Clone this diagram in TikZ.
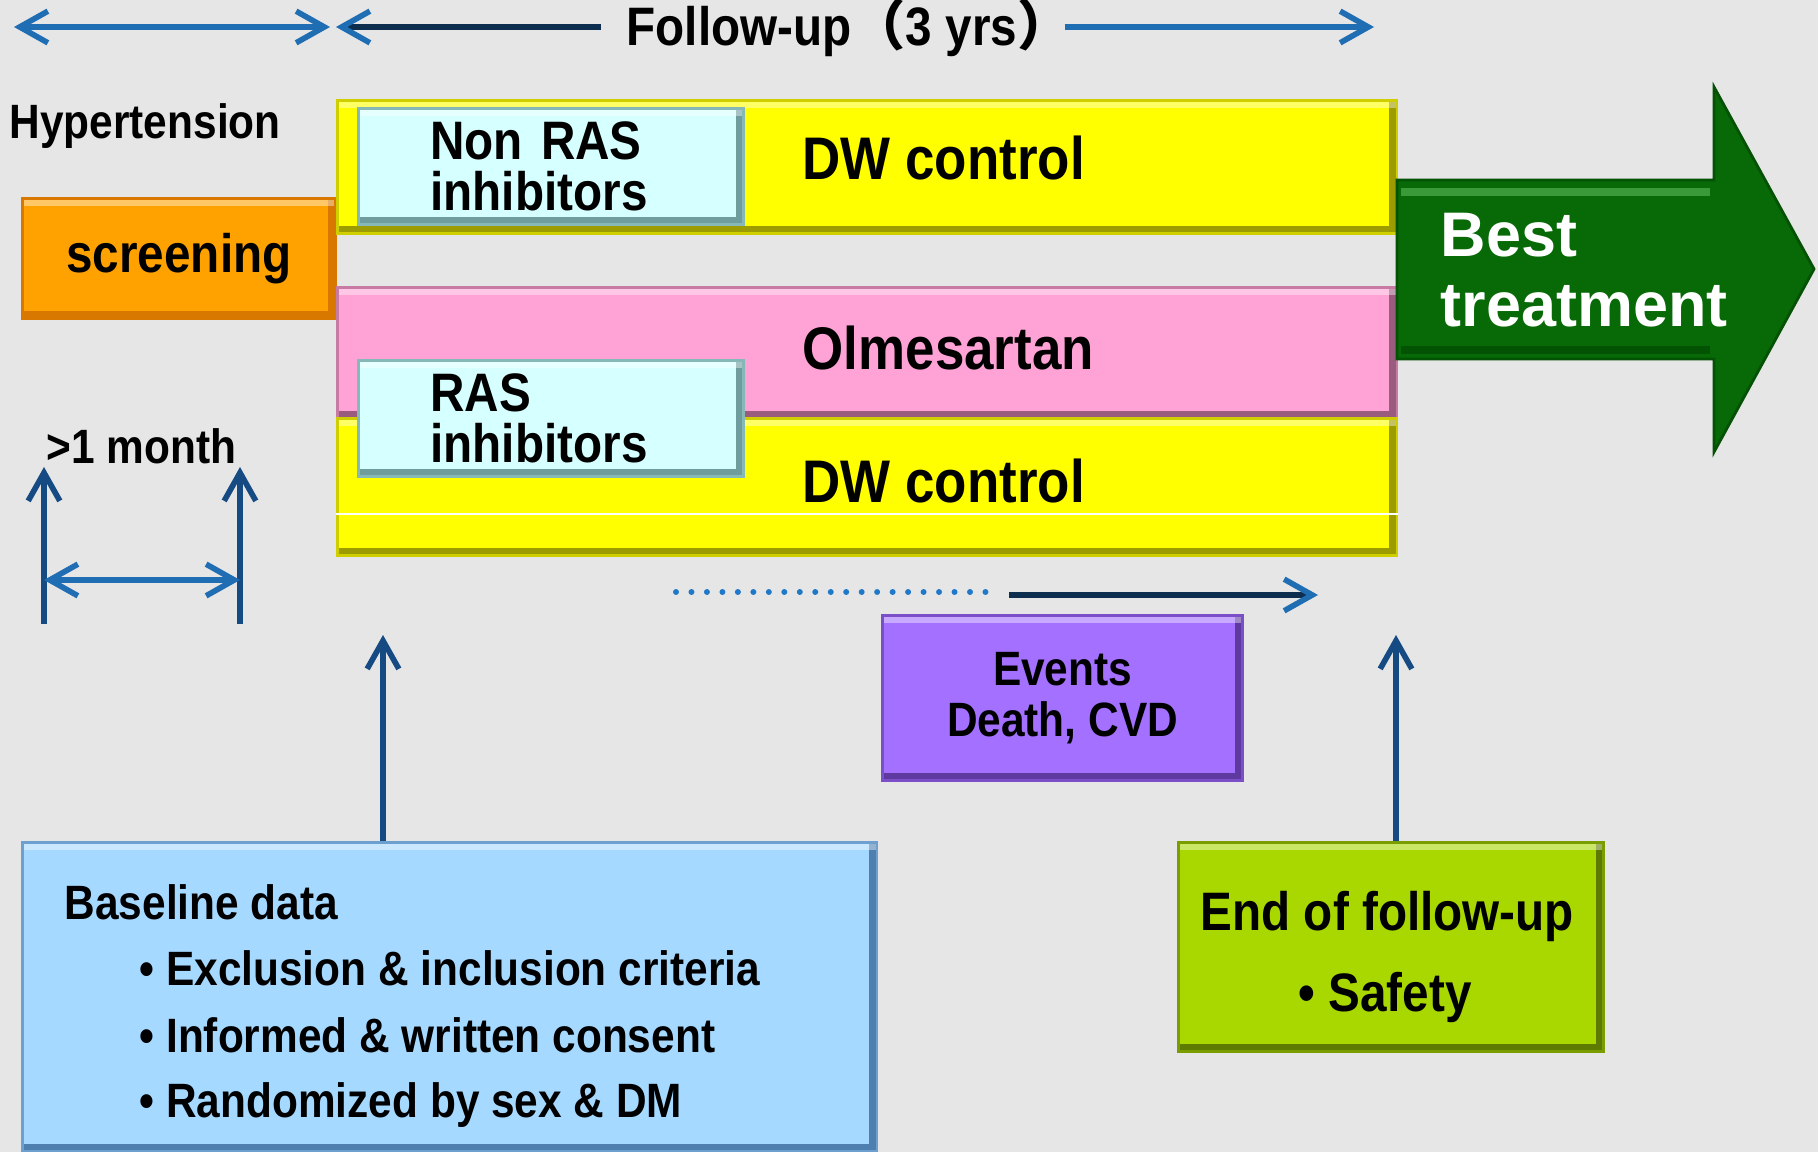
\documentclass[tikz,border=0pt]{standalone}
\usepackage{fontspec}
\setmainfont{Liberation Sans}
\newfontfamily\narrowsf{Liberation Sans}[FakeStretch=0.88]
\newfontfamily\cjk{Noto Sans CJK SC}
\usepackage{tikz}
\usetikzlibrary{arrows.meta}
\definecolor{bgcol}{HTML}{E6E6E6}
\definecolor{arrblue}{HTML}{1F6DB3}
\definecolor{arrnavy}{HTML}{154A82}
\definecolor{arrdark}{HTML}{0E2E50}
\definecolor{dotblue}{HTML}{1F78C8}
\definecolor{orangefill}{HTML}{FFA200}
\definecolor{orangeline}{HTML}{D87800}
\definecolor{yel}{HTML}{FFFF00}
\definecolor{yelline}{HTML}{CFCF00}
\definecolor{yeldark}{HTML}{9C9C00}
\definecolor{cyanfill}{HTML}{D6FFFF}
\definecolor{cyanline}{HTML}{86B8B8}
\definecolor{cyandark}{HTML}{6F9C9C}
\definecolor{pinkfill}{HTML}{FFA3D6}
\definecolor{pinkline}{HTML}{C77AA3}
\definecolor{pinkdark}{HTML}{9A5C7E}
\definecolor{bestgreen}{HTML}{076A07}
\definecolor{bestdark}{HTML}{045204}
\definecolor{bestlight}{HTML}{3A9A3A}
\definecolor{purplefill}{HTML}{A370FF}
\definecolor{purpleline}{HTML}{7A4FC8}
\definecolor{purpledark}{HTML}{5E3AA0}
\definecolor{basefill}{HTML}{A6D9FF}
\definecolor{baseedge}{HTML}{6D9FCF}
\definecolor{basedark}{HTML}{4F7FAF}
\definecolor{limefill}{HTML}{A8D800}
\definecolor{limeline}{HTML}{7A9E00}
\definecolor{limedark}{HTML}{5F7A00}

\begin{document}
\begin{tikzpicture}[
    x=0.01cm, y=-0.01cm,
    box/.style={anchor=north west, inner sep=0pt, line width=0.8pt},
    bevel/.style={path picture={
        \fill[#1] (path picture bounding box.south west) rectangle ([yshift=2.2pt]path picture bounding box.south east);
        \fill[#1] (path picture bounding box.north east) rectangle ([xshift=-2.2pt]path picture bounding box.south east);
        \fill[white, opacity=0.4] (path picture bounding box.north west) rectangle ([yshift=-2.2pt]path picture bounding box.north east);
    }},
    lblS/.style={font=\narrowsf\bfseries\fontsize{13.7}{14.5}\selectfont, inner sep=0pt},
    lblM/.style={font=\narrowsf\bfseries\fontsize{15.4}{14.4}\selectfont, inner sep=0pt},
    lblL/.style={font=\narrowsf\bfseries\fontsize{17.1}{20}\selectfont, inner sep=0pt},
    bestlbl/.style={font=\bfseries\fontsize{17.9}{19.9}\selectfont, text=white, inner sep=0pt},
    arr/.style={-{Straight Barb[length=8pt, width=9pt]}, line width=1.6pt, arrblue},
    darr/.style={{Straight Barb[length=8pt, width=9pt]}-{Straight Barb[length=8pt, width=9pt]}, line width=1.6pt, arrblue},
    arrdk/.style={-{Straight Barb[length=8pt, width=9pt, color=arrblue]}, line width=1.6pt, arrdark},
    uparr/.style={-{Straight Barb[length=8pt, width=9pt]}, line width=1.6pt, arrnavy},
    dotline/.style={dotblue, line width=1.7pt, line cap=round, dash pattern=on 0pt off 4.4pt}
]
% background
\fill[bgcol] (0,0) rectangle (1818,1152);
\useasboundingbox (0,0) rectangle (1818,1152);
% Follow-up timeline
\coordinate (tlA) at (14,27);
\coordinate (tlB) at (330,27);
\coordinate (tlC) at (336,27);
\coordinate (tlD) at (1374,27);
\node[lblM, anchor=base west, inner xsep=0.25cm] (fu) at (601,46) {Follow-up{\cjk （}3 yrs{\cjk ）}\kern-0.6em};
\draw[darr] (tlA) -- (tlB);
\draw[arrdk] (fu.west |- tlC) -- (tlC);
\draw[arr] (fu.east |- tlD) -- (tlD);
% Screening
\node[lblS, anchor=base west] (hyp) at (9,139) {Hypertension};
\node[box, lblM, fill=orangefill, draw=orangeline, bevel=orangeline, minimum width=3.13cm, minimum height=1.20cm] (screen) at (21,197) {screening};
% Randomised groups
\coordinate (cut) at (0,514);
\node[box, fill=yel, draw=yelline, bevel=yeldark, minimum width=10.59cm, minimum height=1.33cm] (yelA) at (336,99) {};
\node[box, fill=pinkfill, draw=pinkline, bevel=pinkdark, minimum width=10.59cm, minimum height=1.31cm] (pink) at (336,286) {};
\node[box, fill=yel, draw=yelline, bevel=yeldark, minimum width=10.59cm, minimum height=1.37cm] (yelB) at (336,417) {};
\draw[white, line width=0.5pt] (yelB.west |- cut) -- (yelB.east |- cut);
\node[box, lblM, fill=cyanfill, draw=cyanline, bevel=cyandark, minimum width=3.85cm, minimum height=1.16cm, text width=2.41cm, inner xsep=0.72cm, align=left] (nonras) at (357,107) {Non RAS\\inhibitors};
\node[box, lblM, fill=cyanfill, draw=cyanline, bevel=cyandark, minimum width=3.85cm, minimum height=1.16cm, text width=2.41cm, inner xsep=0.72cm, align=left] (ras) at (357,359) {RAS\\inhibitors};
\node[lblL, anchor=base west] (dwA) at (802,180) {DW control};
\node[lblL, anchor=base west] (olm) at (802,370) {Olmesartan};
\node[lblL, anchor=base west] (dwB) at (802,502) {DW control};
% Best treatment arrow
\fill[bestgreen, draw=bestdark, line width=0.8pt] (1397,180) -- (1714,180) -- (1714,87) -- (1814,269) -- (1714,452) -- (1714,359) -- (1397,359) -- cycle;
\draw[bestlight, line width=2.5pt] (1401,192) -- (1710,192);
\draw[bestdark, line width=2.5pt] (1401,350) -- (1710,350);
\node[bestlbl, anchor=west, align=left] (best) at (1440,270) {Best\\treatment};
% Run-in period
\node[lblS, anchor=base west] (month) at (46,464) {>1 month};
\coordinate (mA0) at (44,624);
\coordinate (mA1) at (44,467);
\coordinate (mB0) at (240,624);
\coordinate (mB1) at (240,467);
\coordinate (mC) at (44,580);
\coordinate (mD) at (240,580);
\draw[uparr] (mA0) -- (mA1);
\draw[uparr] (mB0) -- (mB1);
\draw[darr] (mC) -- (mD);
% Events
\coordinate (dotA) at (676,592);
\coordinate (dotB) at (988,592);
\coordinate (evA) at (1009,595);
\coordinate (evB) at (1318,595);
\draw[dotline] (dotA) -- (dotB);
\draw[arrdk] (evA) -- (evB);
\node[box, lblS, fill=purplefill, draw=purpleline, bevel=purpledark, minimum width=3.60cm, minimum height=1.65cm, align=center] (events) at (881,614) {Events\\Death, CVD};
% Baseline data
\node[box, fill=basefill, draw=baseedge, bevel=basedark, minimum width=8.54cm, minimum height=3.09cm] (base) at (21,841) {};
\node[lblS, anchor=base west] (baseT) at (64,919) {Baseline data};
\node[lblS, anchor=base west] (baseA) at (139,985) {• Exclusion \& inclusion criteria};
\node[lblS, anchor=base west] (baseB) at (139,1052) {• Informed \& written consent};
\node[lblS, anchor=base west] (baseC) at (139,1117) {• Randomized by sex \& DM};
% End of follow-up
\node[box, fill=limefill, draw=limeline, bevel=limedark, minimum width=4.25cm, minimum height=2.09cm] (endfu) at (1177,841) {};
\node[lblM, anchor=base west] (endT) at (1200,930) {End of follow-up};
\node[lblM, anchor=base west] (safe) at (1298,1011) {• Safety};
\coordinate (upA) at (383,635);
\coordinate (upB) at (1396,635);
\draw[uparr] (base.north -| upA) -- (upA);
\draw[uparr] (endfu.north -| upB) -- (upB);
\end{tikzpicture}
\end{document}
